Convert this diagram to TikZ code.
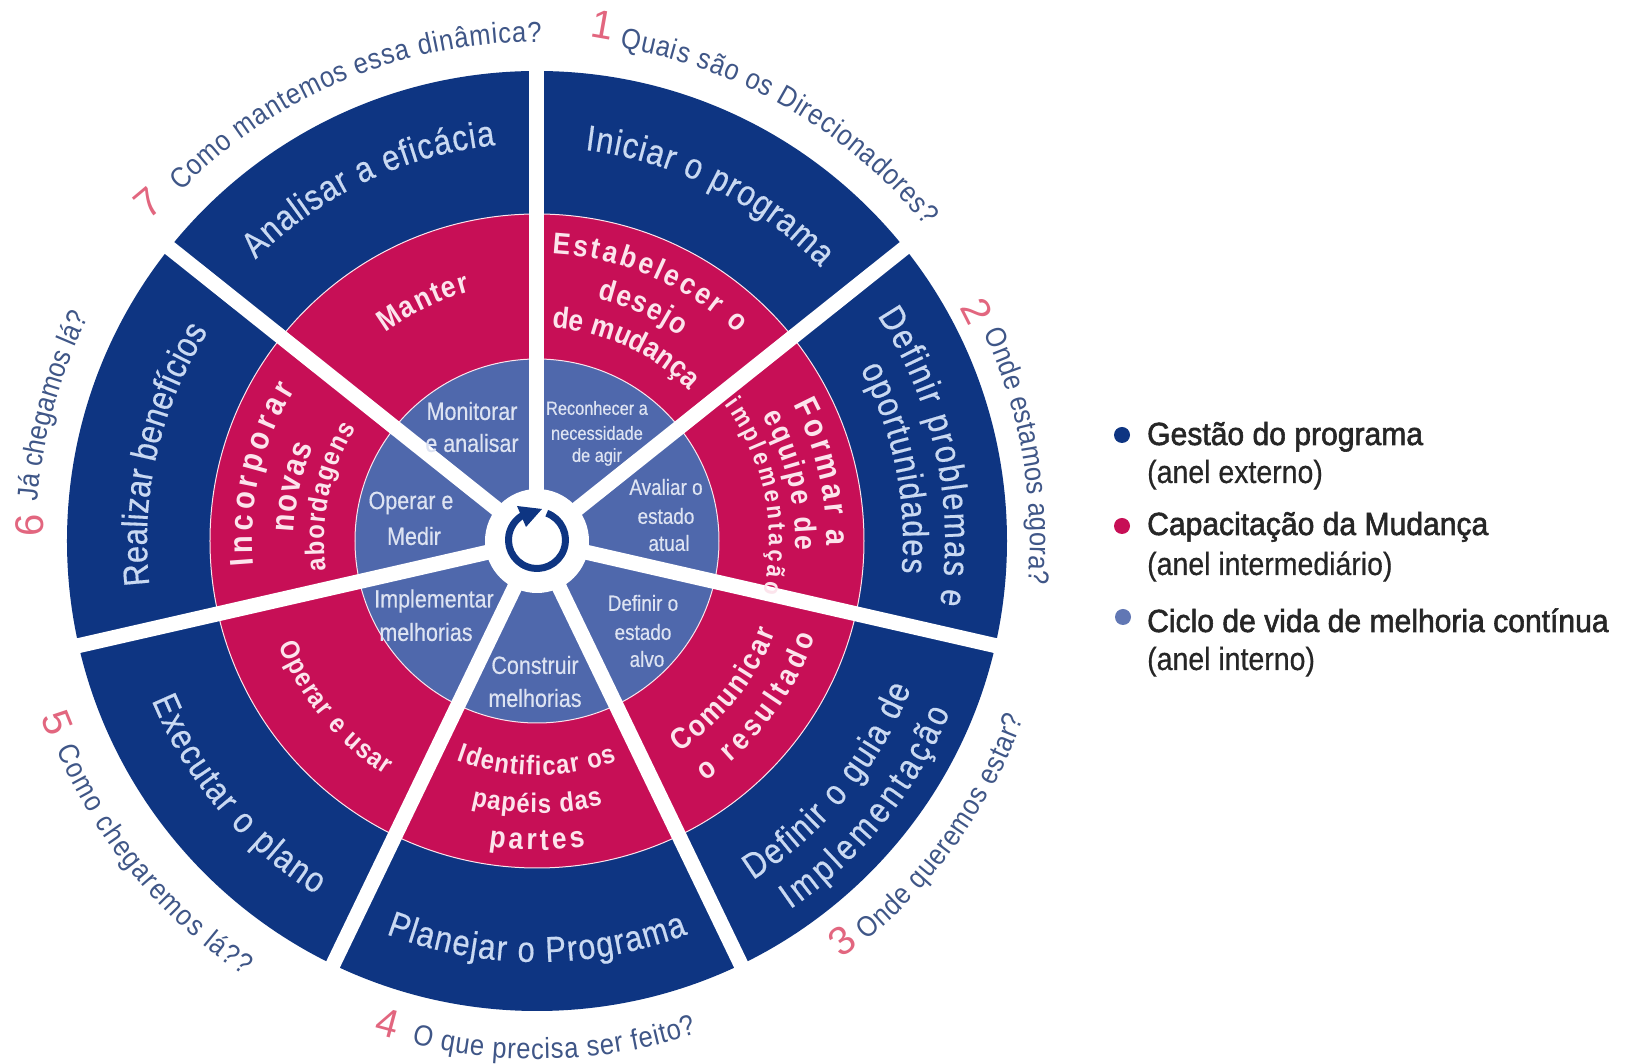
\documentclass[tikz,border=0pt]{standalone}
\usepackage{fontspec}
\usetikzlibrary{decorations.text}
\setmainfont{Liberation Sans}
\newfontfamily\nar[FakeStretch=0.88]{Liberation Sans}
\newfontfamily\narh[FakeStretch=0.86,FakeBold=0.4]{Liberation Sans}
\newfontfamily\qf[FakeStretch=0.88]{Liberation Sans}
\newfontfamily\legf[FakeStretch=0.94,FakeBold=1.8]{Liberation Sans}
\newfontfamily\subf[FakeStretch=0.89,FakeBold=0.5]{Liberation Sans}
\definecolor{navy}{HTML}{0E3582}
\definecolor{rose}{HTML}{C70F56}
\definecolor{slate}{HTML}{4F68AC}
\definecolor{outtext}{HTML}{C9D9F2}
\definecolor{midtext}{HTML}{FCE4EC}
\definecolor{intext}{HTML}{DDE3F2}
\definecolor{qtext}{HTML}{3F5687}
\definecolor{numtext}{HTML}{E2667F}
\definecolor{legtext}{HTML}{262626}
\newcommand\fmtOut{\narh\fontsize{36}{36}\selectfont\color{outtext}}
\newcommand\fmtMidL{\nar\bfseries\fontsize{33}{33}\selectfont\color{midtext}}
\newcommand\fmtMid{\nar\bfseries\fontsize{30}{30}\selectfont\color{midtext}}
\newcommand\fmtMidT{\nar\bfseries\fontsize{27}{27}\selectfont\color{midtext}}
\newcommand\fmtMidS{\nar\bfseries\fontsize{25}{25}\selectfont\color{midtext}}
\newcommand\fmtQ{\qf\fontsize{29}{29}\selectfont\color{qtext}}
% radius, start angle, end angle, format, text
\newcommand\arcLabel[5]{\path[postaction={decorate},decoration={text along path,text align={fit to path},text={|#4|#5}}] (#2:#1) arc[start angle=#2,end angle=#3,radius=#1];}
\tikzset{
  inlabel/.style={font=\narh\fontsize{25}{25}\selectfont,text=intext,inner sep=0pt},
  inlabelM/.style={font=\narh\fontsize{22}{22}\selectfont,text=intext,inner sep=0pt},
  inlabelS/.style={font=\narh\fontsize{19}{19}\selectfont,text=intext,inner sep=0pt},
  numlabel/.style={font=\fontsize{40}{40}\selectfont,text=numtext,inner sep=0pt},
  legmain/.style={font=\legf\fontsize{32}{32}\selectfont,text=legtext,anchor=base west,inner sep=0pt},
  legsub/.style={font=\subf\fontsize{32}{32}\selectfont,text=legtext,anchor=base west,inner sep=0pt},
  spokeline/.style={white,line width=15pt},
}
\begin{document}
\begin{tikzpicture}[x=1pt,y=1pt]
\useasboundingbox (-537,-523) rectangle (1094,541);
\fill[white] (-537,-523) rectangle (1094,541);
% rings
\fill[navy] (0,0) circle[radius=470];
\filldraw[fill=rose,draw=midtext,line width=1pt] (0,0) circle[radius=327];
\filldraw[fill=slate,draw=midtext,line width=1pt] (0,0) circle[radius=182];
% spokes
\coordinate (hub) at (0,0);
\foreach \k in {0,...,6}{
  \coordinate (sp\k) at ({90-\k*360/7}:485);
  \draw[spokeline] (hub) -- (sp\k);
}
\fill[white] (0,0) circle[radius=52];
% cycle icon
\draw[navy,line width=7pt] (0,1) ++(70:28.5) arc[start angle=70,end angle=-255,radius=28.5];
\fill[navy] (-20,35) -- (5,32) -- (-11,14) -- cycle;
% outer ring
\arcLabel{394}{83}{44}{\fmtOut}{Iniciar o programa}
\arcLabel{408}{33.5}{-9}{\fmtOut}{Definir problemas e}
\arcLabel{366}{28}{-5}{\fmtOut}{oportunidades}
\arcLabel{402}{-57.5}{-21.5}{\fmtOut}{Definir o guia de}
\arcLabel{447}{-55.5}{-22.5}{\fmtOut}{Implementação}
\arcLabel{421}{249}{291}{\fmtOut}{Planejar o Programa}
\arcLabel{417}{202.5}{238}{\fmtOut}{Executar o plano}
\arcLabel{390}{186.5}{147.5}{\fmtOut}{Realizar benefícios}
\arcLabel{398}{135}{96}{\fmtOut}{Analisar a eficácia}
% middle ring
\arcLabel{288}{87}{46}{\fmtMid}{Estabelecer o}
\arcLabel{250}{76}{55}{\fmtMid}{desejo}
\arcLabel{214}{86}{45}{\fmtMid}{de mudança}
\arcLabel{290}{28}{-1}{\fmtMidL}{Formar a}
\arcLabel{258}{29}{-2}{\fmtMid}{equipe de}
\arcLabel{232}{36}{-13}{\fmtMidS}{implementação}
\arcLabel{255}{-56}{-21}{\fmtMid}{Comunicar}
\arcLabel{294}{-55}{-19}{\fmtMid}{o resultado}
\arcLabel{234}{250}{290}{\fmtMidT}{Identificar os}
\arcLabel{272}{256}{284}{\fmtMidT}{papéis das}
\arcLabel{309}{261}{279}{\fmtMid}{partes}
\arcLabel{279}{202}{237}{\fmtMidT}{Operar e usar}
\arcLabel{285}{185}{148}{\fmtMidL}{Incorporar}
\arcLabel{243}{178}{157}{\fmtMidL}{novas}
\arcLabel{213}{188}{148}{\fmtMidT}{abordagens}
\arcLabel{258}{126}{105}{\fmtMid}{Manter}
% inner ring (px offsets from centre 537,541)
\node[inlabel] (m1) at (-65,130) {Monitorar};
\node[inlabel] (m2) at (-65,98) {e analisar};
\node[inlabelS] (r1) at (60,133) {Reconhecer a};
\node[inlabelS] (r2) at (60,108) {necessidade};
\node[inlabelS] (r3) at (60,84) {de agir};
\node[inlabelM] (a1) at (129,54) {Avaliar o};
\node[inlabelM] (a2) at (129,25) {estado};
\node[inlabelM] (a3) at (132,-2) {atual};
\node[inlabelM] (d1) at (106,-62) {Definir o};
\node[inlabelM] (d2) at (106,-91) {estado};
\node[inlabelM] (d3) at (110,-118) {alvo};
\node[inlabel] (c1) at (-2,-124) {Construir};
\node[inlabel] (c2) at (-2,-157) {melhorias};
\node[inlabel] (i1) at (-103,-60) {Implementar};
\node[inlabel] (i2) at (-111,-91) {melhorias};
\node[inlabel] (o1) at (-126,38) {Operar e};
\node[inlabel] (o2) at (-123,5) {Medir};
% step numbers
\node[numlabel,rotate=-10] (n1) at (66,516) {1};
\node[numlabel,rotate=-63] (n2) at (440,230) {2};
\node[numlabel,rotate=37] (n3) at (305,-400) {3};
\node[numlabel,rotate=-15] (n4) at (-149,-482) {4};
\node[numlabel,rotate=-68] (n5) at (-480,-182) {5};
\node[numlabel,rotate=90] (n6) at (-507,16) {6};
\node[numlabel,rotate=40] (n7) at (-389,338) {7};
% questions
\arcLabel{500}{80.5}{39}{\fmtQ}{Quais são os Direcionadores?}
\arcLabel{493}{25}{-5}{\fmtQ}{Onde estamos agora?}
\arcLabel{518}{-50.5}{-20}{\fmtQ}{Onde queremos estar?}
\arcLabel{518}{256}{288}{\fmtQ}{O que precisa ser feito?}
\arcLabel{524}{203.5}{236}{\fmtQ}{Como chegaremos lá??}
\arcLabel{501}{175.5}{153.5}{\fmtQ}{Já chegamos lá?}
\arcLabel{499}{135.5}{89.5}{\fmtQ}{Como mantemos essa dinâmica?}
% legend
\fill[navy] (585,106) circle[radius=8];
\fill[rose] (585,15) circle[radius=8];
\fill[slate!90!white] (586,-76) circle[radius=8];
\node[legmain] (l1) at (610,96) {Gestão do programa};
\node[legsub] (l1s) at (610,58) {(anel externo)};
\node[legmain] (l2) at (610,6) {Capacitação da Mudança};
\node[legsub] (l2s) at (610,-34) {(anel intermediário)};
\node[legmain] (l3) at (610,-91) {Ciclo de vida de melhoria contínua};
\node[legsub] (l3s) at (610,-129) {(anel interno)};
\end{tikzpicture}
\end{document}
